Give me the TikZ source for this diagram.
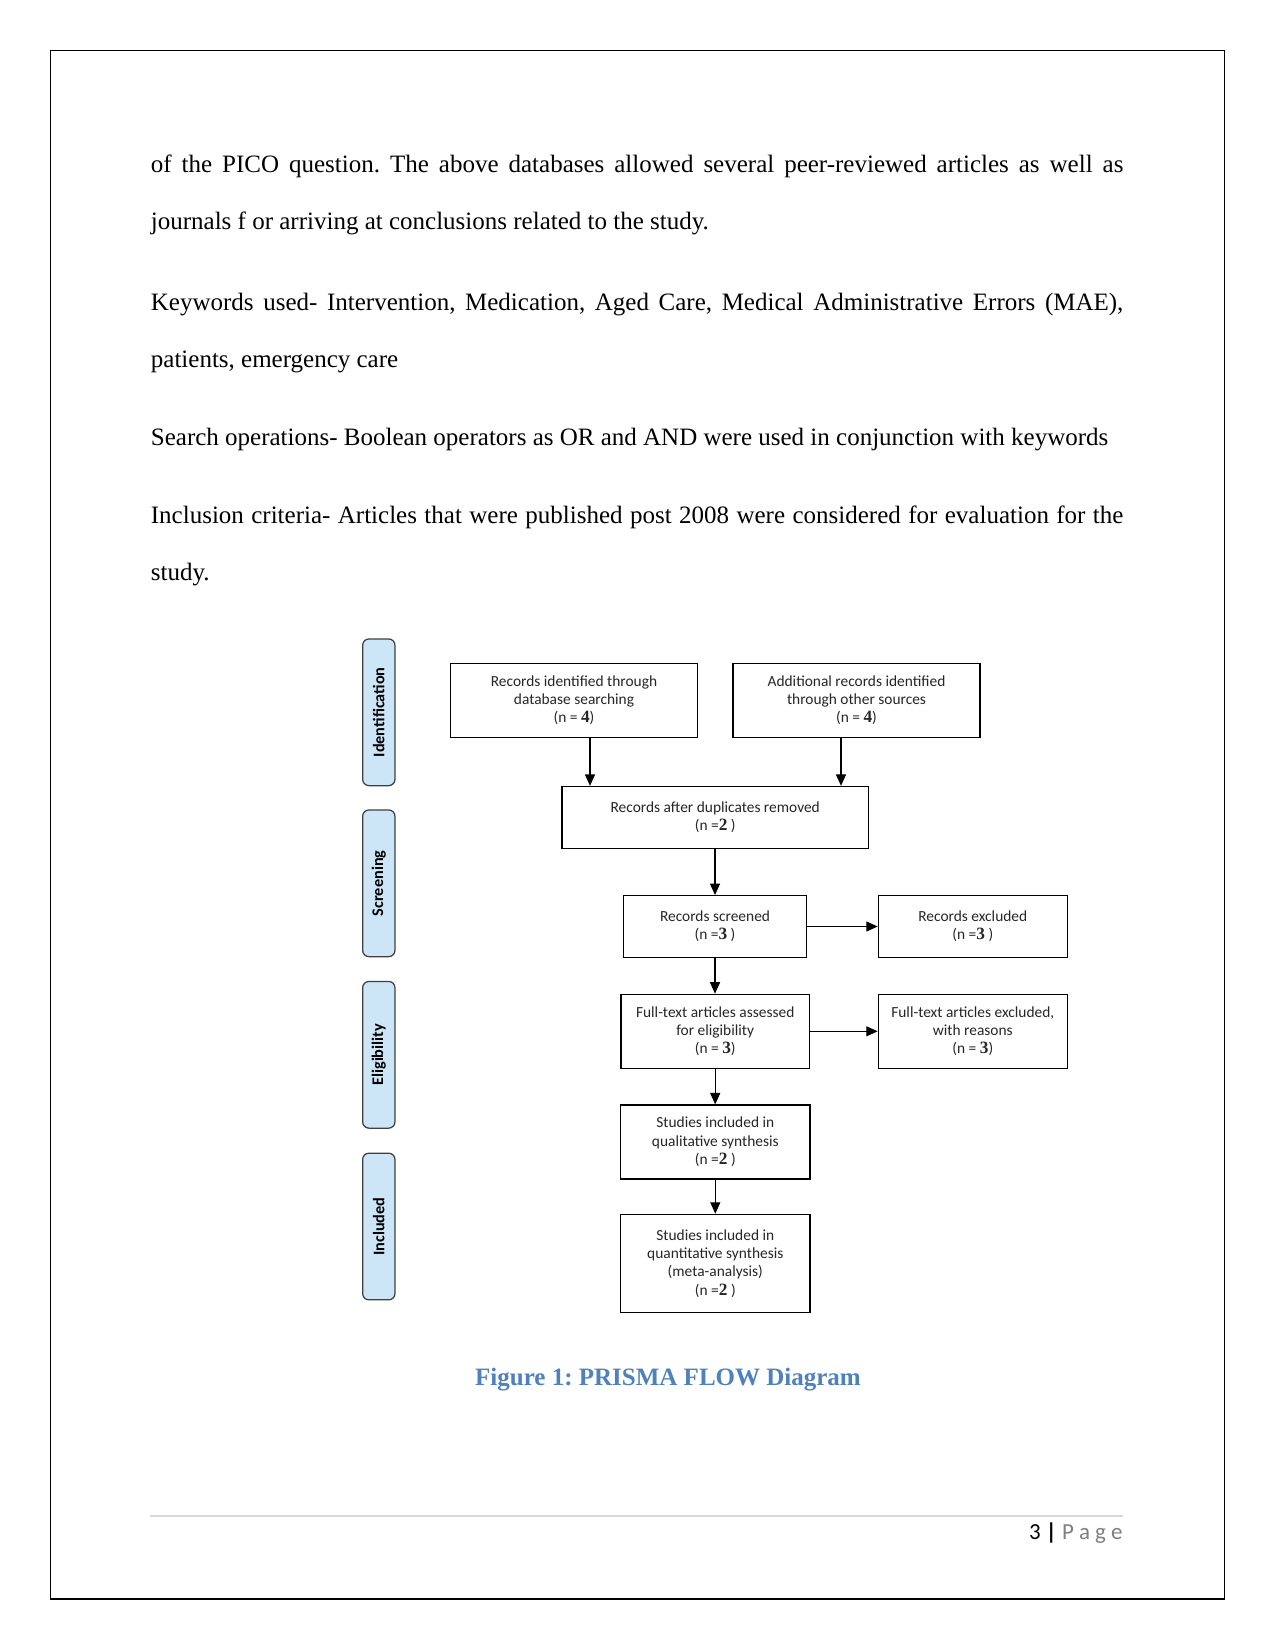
\documentclass[tikz,border=0pt]{standalone}
\usepackage{fontspec}
\setmainfont{Liberation Serif}
\newfontfamily\carl{Carlito}
\usetikzlibrary{arrows.meta}
\definecolor{capblue}{HTML}{4F81BD}
\definecolor{lblue}{HTML}{CCE6F8}
\definecolor{boxtext}{HTML}{262626}
\definecolor{footgray}{HTML}{7F7F7F}
\definecolor{rulegray}{HTML}{D9D9D9}
\newcommand{\dg}[1]{{\rmfamily\fontsize{8.3}{8.8}\selectfont\bfseries #1}}
\frenchspacing
\begin{document}
\begin{tikzpicture}[x=0.48pt,y=-0.48pt,
  box/.style={draw=black, line width=0.6pt, fill=white, align=center,
    font=\carl\fontsize{7.4}{8.8}\selectfont, text=boxtext, inner sep=0pt},
  side/.style={draw=black!75, line width=0.6pt, fill=lblue, rounded corners=3pt,
    rotate=90, font=\carl\bfseries\fontsize{7.8}{8.8}\selectfont, inner sep=0pt,
    minimum width=70.4pt, minimum height=15.5pt},
  arr/.style={-{Triangle[width=4.8pt,length=5.5pt]}, line width=0.6pt},
  body/.style={anchor=base west, inner sep=0pt, font=\fontsize{12}{14}\selectfont}]
\fill[white] (0,0) rectangle (1275,1651);
\useasboundingbox (0,0) rectangle (1275,1651);
\draw[line width=0.65pt] (50.7,50.7) rectangle (1224.3,1599);

% body text
\node[body] (l1) at (150.5,173) {\makebox[466.8pt][s]{of the PICO question. The above databases allowed several peer-reviewed articles as well as}};
\node[body] (l2) at (150.5,230) {journals f or arriving at conclusions related to the study.};
\node[body] (l3) at (150.5,310) {\makebox[466.8pt][s]{Keywords used- Intervention, Medication, Aged Care, Medical Administrative Errors (MAE),}};
\node[body] (l4) at (150.5,367) {patients, emergency care};
\node[body] (l5) at (150.5,445) {Search operations- Boolean operators as OR and AND were used in conjunction with keywords};
\node[body] (l6) at (150.5,523) {\makebox[466.8pt][s]{Inclusion criteria- Articles that were published post 2008 were considered for evaluation for the}};
\node[body] (l7) at (150.5,580) {study.};

% side labels
\node[side] (sid) at (378.8,712.3) {Identification};
\node[side] (ssc) at (378.8,883.3) {Screening};
\node[side] (sel) at (378.8,1054.8) {Eligibility};
\node[side] (sin) at (378.8,1226.5) {Included};

% boxes
\node[box, minimum width=118.4pt, minimum height=35.5pt] (rid) at (574,700.3) {Records identified through\\database searching\\(n = \dg{4})};
\node[box, minimum width=118.6pt, minimum height=35.5pt] (add) at (856.5,700.3) {Additional records identified\\through other sources\\(n = \dg{4})};
\node[box, minimum width=147pt, minimum height=29.7pt] (dup) at (715.2,817.4) {Records after duplicates removed\\(n =\dg{2} )};
\node[box, minimum width=88pt, minimum height=29.6pt] (scr) at (715,926.5) {Records screened\\(n =\dg{3} )};
\node[box, minimum width=90.7pt, minimum height=29.6pt] (exc) at (972.8,926.5) {Records excluded\\(n =\dg{3} )};
\node[box, minimum width=90.4pt, minimum height=35.5pt] (ft) at (715.2,1031.3) {Full-text articles assessed\\for eligibility\\(n = \dg{3})};
\node[box, minimum width=90.7pt, minimum height=35.5pt] (ftex) at (972.8,1031.3) {Full-text articles excluded,\\with reasons\\(n = \dg{3})};
\node[box, minimum width=90.9pt, minimum height=35.5pt] (qual) at (715.3,1142) {Studies included in\\qualitative synthesis\\(n =\dg{2} )};
\node[box, minimum width=90.9pt, minimum height=47pt] (quant) at (715.3,1263.3) {Studies included in\\quantitative synthesis\\(meta-analysis)\\(n =\dg{2} )};

% connectors
\coordinate (a1) at (590,0);
\coordinate (a2) at (841,0);
\draw[arr] (rid.south -| a1) -- (dup.north -| a1);
\draw[arr] (add.south -| a2) -- (dup.north -| a2);
\draw[arr] (dup.south -| scr.north) -- (scr.north);
\draw[arr] (scr.east) -- (exc.west);
\draw[arr] (scr.south) -- (ft.north -| scr.south);
\draw[arr] (ft.east) -- (ftex.west);
\draw[arr] (ft.south) -- (qual.north -| ft.south);
\draw[arr] (qual.south) -- (quant.north -| qual.south);

% caption
\node[anchor=base, inner sep=0pt, font=\bfseries\fontsize{12}{14}\selectfont, text=capblue] (cap) at (668,1385) {Figure 1: PRISMA FLOW Diagram};

% footer
\coordinate (r1) at (150,1516);
\coordinate (r2) at (1123,1516);
\draw[rulegray, line width=0.5pt] (r1) -- (r2);
\node[anchor=base east, inner sep=0pt, font=\carl\fontsize{11}{13}\selectfont] (pg) at (1123,1539) {3 {\bfseries|} \textcolor{footgray}{P a g e}};
\end{tikzpicture}
\end{document}
